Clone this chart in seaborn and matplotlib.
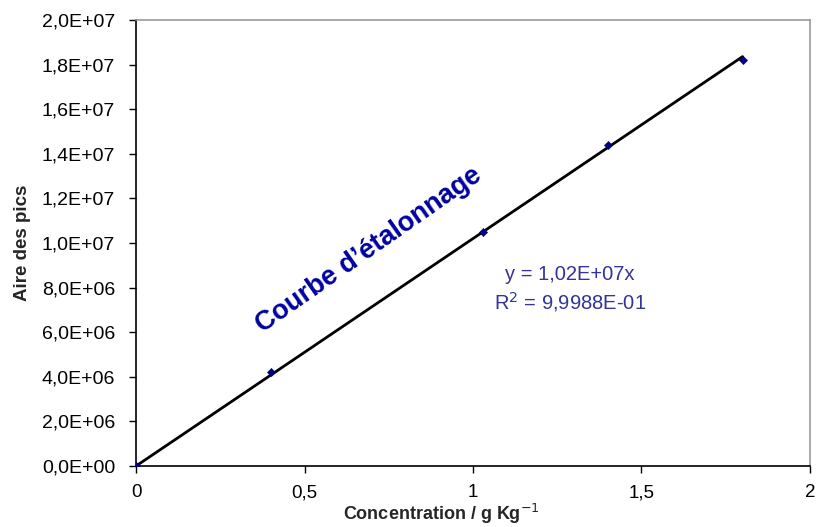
import matplotlib
matplotlib.use("Agg")
import matplotlib.pyplot as plt
import seaborn as sns
import numpy as np
import pandas as pd
from matplotlib.ticker import FuncFormatter, MultipleLocator

# Data
concentration = [0.0, 0.4, 1.03, 1.4, 1.8]
aire = [0.0, 4.2e6, 1.05e7, 1.44e7, 1.82e7]
slope = 1.02e7
fit_x = [0.0, 1.8]

sns.set_style("white")
plt.rcParams['font.family'] = ['Liberation Sans', 'DejaVu Sans']

fig = plt.figure(figsize=(8.16, 5.27), dpi=100)
ax = fig.add_axes([0.1667, 0.1157, 0.8259, 0.8463])

df = pd.DataFrame({"x": concentration, "y": aire})
fit_df = pd.DataFrame({"x": fit_x, "y": [slope * v for v in fit_x]})

sns.lineplot(data=fit_df, x="x", y="y", ax=ax, color="black", linewidth=2, zorder=2)
sns.scatterplot(data=df, x="x", y="y", ax=ax, marker="D", s=18, color="#000080",
                edgecolor="#000080", zorder=3)

ax.set_xlim(0, 2)
ax.set_ylim(0, 2e7)
ax.xaxis.set_major_locator(MultipleLocator(0.5))
ax.yaxis.set_major_locator(MultipleLocator(2e6))

def xfmt(v, pos):
    if abs(v - round(v)) < 1e-9:
        return str(int(round(v)))
    return f"{v:.1f}".replace(".", ",")

def yfmt(v, pos):
    if v == 0:
        return "0,0E+00"
    e = int(np.floor(np.log10(abs(v))))
    m = v / 10**e
    return f"{m:.1f}".replace(".", ",") + f"E+{e:02d}"

ax.xaxis.set_major_formatter(FuncFormatter(xfmt))
ax.yaxis.set_major_formatter(FuncFormatter(yfmt))

ax.tick_params(axis="y", direction="out", length=5, width=1, colors="black",
               labelsize=14, pad=10, left=True)
ax.tick_params(axis="x", direction="out", length=5, width=1, colors="black",
               labelsize=13.5, pad=8, bottom=True)
for side in ["left", "bottom"]:
    ax.spines[side].set_color("black")
    ax.spines[side].set_linewidth(1.2)
for side in ["top", "right"]:
    ax.spines[side].set_color("#999999")
    ax.spines[side].set_linewidth(1.2)

ax.set_xlabel("Concentration / g Kg$^{-1}$", fontsize=13, fontweight="bold")
ax.xaxis.set_label_coords(0.4525, -0.122)
ax.xaxis.label.set_va("baseline")
ax.set_ylabel("Aire des pics", fontsize=13.5, fontweight="bold", labelpad=8)

ax.text(0.69, 9.7e6, "Courbe d’étalonnage", rotation=35, rotation_mode="anchor",
        ha="center", va="center", fontsize=19.5, fontweight="bold", color="#0000A0")
ax.text(1.288, 8.57e6, "y = 1,02E+07x", ha="center", va="center", fontsize=14.5, color="#333399")
ax.text(1.288, 7.35e6, "R$^2$ = 9,9988E-01", ha="center", va="center", fontsize=14.5, color="#333399")

fig.savefig("out.png", dpi=100)
